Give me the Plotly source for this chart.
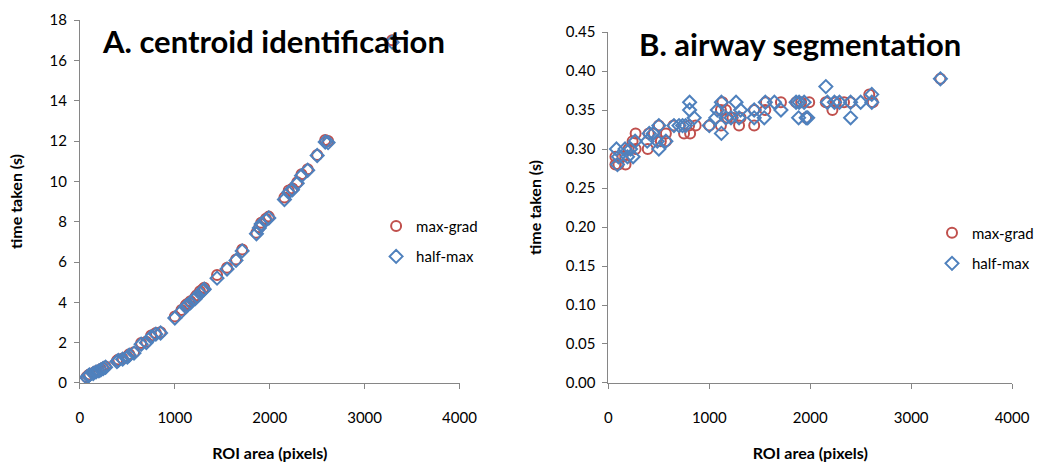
import plotly.graph_objects as go

# ROI areas (pixels) and timings for centroid identification
roi_area = [70, 90, 100, 140, 170, 200, 220, 245, 270, 390, 405, 450, 500, 520, 570,
            645, 700, 750, 800, 850, 1000, 1070, 1115, 1130, 1165, 1215, 1230, 1265,
            1295, 1310, 1445, 1550, 1645, 1710, 1860, 1890, 1910, 1960, 1990, 2155,
            2200, 2240, 2290, 2335, 2400, 2500, 2585, 2615, 3290]
centroid_maxgrad = [0.30, 0.38, 0.42, 0.50, 0.58, 0.62, 0.68, 0.74, 0.82, 1.10, 1.16,
                    1.22, 1.32, 1.42, 1.52, 1.98, 2.05, 2.35, 2.48, 2.52, 3.30, 3.62,
                    3.85, 3.92, 4.05, 4.25, 4.35, 4.55, 4.65, 4.72, 5.35, 5.72, 6.12,
                    6.62, 7.45, 7.72, 7.95, 8.15, 8.25, 9.20, 9.55, 9.65, 9.95, 10.35,
                    10.60, 11.30, 12.05, 12.00, 17.00]
centroid_halfmax = [0.28, 0.35, 0.40, 0.47, 0.55, 0.60, 0.65, 0.72, 0.78, 1.06, 1.12,
                    1.18, 1.28, 1.38, 1.48, 1.92, 2.00, 2.28, 2.42, 2.48, 3.22, 3.55,
                    3.78, 3.85, 3.98, 4.18, 4.28, 4.45, 4.58, 4.65, 5.20, 5.65, 6.08,
                    6.55, 7.40, 7.68, 7.88, 8.08, 8.18, 9.10, 9.45, 9.58, 9.90, 10.28,
                    10.55, 11.28, 11.95, 11.92, 16.90]

# Airway segmentation timings
seg_maxgrad_x = [70, 70, 100, 170, 140, 200, 240, 270, 270, 390, 400, 450, 500, 520,
                 570, 570, 645, 750, 810, 800, 865, 1000, 1115, 1115, 1130, 1165, 1180,
                 1230, 1295, 1310, 1445, 1445, 1555, 1560, 1710, 1860, 1910, 1960, 1990,
                 2155, 2220, 2255, 2335, 2400, 2585, 2620, 3290]
seg_maxgrad_y = [0.29, 0.28, 0.28, 0.28, 0.29, 0.30, 0.31, 0.32, 0.30, 0.30, 0.32,
                 0.32, 0.33, 0.31, 0.32, 0.31, 0.33, 0.32, 0.32, 0.33, 0.33, 0.33, 0.33,
                 0.35, 0.36, 0.35, 0.34, 0.34, 0.33, 0.34, 0.33, 0.35, 0.35, 0.36, 0.36,
                 0.36, 0.36, 0.34, 0.36, 0.36, 0.35, 0.36, 0.36, 0.36, 0.37, 0.36, 0.39]
seg_halfmax_x = [80, 90, 100, 165, 190, 220, 245, 265, 385, 405, 445, 485, 500, 500,
                 570, 650, 700, 735, 765, 805, 805, 850, 1000, 1065, 1080, 1120, 1120,
                 1165, 1215, 1265, 1295, 1310, 1445, 1445, 1545, 1555, 1645, 1710, 1860,
                 1885, 1890, 1940, 1960, 1975, 2155, 2170, 2240, 2290, 2400, 2400, 2500,
                 2610, 2610, 3290]
seg_halfmax_y = [0.30, 0.28, 0.29, 0.30, 0.29, 0.30, 0.29, 0.31, 0.31, 0.32, 0.32,
                 0.31, 0.33, 0.30, 0.31, 0.33, 0.33, 0.33, 0.33, 0.36, 0.35, 0.34, 0.33,
                 0.34, 0.35, 0.36, 0.32, 0.34, 0.34, 0.36, 0.34, 0.35, 0.35, 0.34, 0.34,
                 0.36, 0.36, 0.35, 0.36, 0.34, 0.36, 0.36, 0.34, 0.34, 0.38, 0.36, 0.36,
                 0.36, 0.34, 0.36, 0.36, 0.37, 0.36, 0.39]

RED = "#C0504D"
BLUE = "#4F81BD"
AXIS = "#868686"
FONT = "Lato"

fig = go.Figure()

def add_pair(x1, y1, x2, y2, xa, ya, legend):
    fig.add_trace(go.Scatter(
        x=x1, y=y1, mode="markers", name="max-grad", xaxis=xa, yaxis=ya,
        legend=legend, legendgroup=legend + "a",
        marker=dict(symbol="circle-open", size=10, color=RED, line=dict(width=2, color=RED))))
    fig.add_trace(go.Scatter(
        x=x2, y=y2, mode="markers", name="half-max", xaxis=xa, yaxis=ya,
        legend=legend, legendgroup=legend + "b",
        marker=dict(symbol="diamond-open", size=10, color=BLUE, line=dict(width=2, color=BLUE))))

add_pair(roi_area, centroid_maxgrad, roi_area, centroid_halfmax, "x", "y", "legend")
add_pair(seg_maxgrad_x, seg_maxgrad_y, seg_halfmax_x, seg_halfmax_y, "x2", "y2", "legend2")

tick_font = dict(family=FONT, size=15, color="#000")
title_font = dict(family=FONT, size=16, color="#000", weight="bold")

def xaxis(domain, anchor):
    return dict(domain=domain, anchor=anchor, range=[0, 4000], dtick=1000,
                automargin=False,
                showgrid=False, zeroline=False, showline=True, linecolor=AXIS,
                ticks="outside", ticklen=5, tickcolor=AXIS, tickfont=tick_font,
                ticklabelstandoff=16,
                title=dict(text="ROI area (pixels)", font=title_font, standoff=22))

def yaxis(domain, anchor, rng, dt, fmt, standoff):
    return dict(domain=domain, anchor=anchor, range=rng, dtick=dt, tickformat=fmt,
                automargin=False,
                showgrid=False, zeroline=False, showline=True, linecolor=AXIS,
                ticks="outside", ticklen=5, tickcolor=AXIS, tickfont=tick_font,
                ticklabelstandoff=4,
                title=dict(text="time taken (s)", font=title_font, standoff=standoff))

legend_style = dict(font=dict(family=FONT, size=15, color="#000"), bgcolor="rgba(0,0,0,0)",
                    tracegroupgap=8, xanchor="left", yanchor="middle", itemwidth=30)

fig.update_layout(
    template="none",
    width=1039, height=462, margin=dict(l=0, r=0, t=0, b=0),
    paper_bgcolor="white", plot_bgcolor="white",
    showlegend=True,
    xaxis=xaxis([0.077, 0.4427], "y"),
    yaxis=yaxis([0.171, 0.9567], "x", [0, 18], 2, "d", 22),
    xaxis2=xaxis([0.5861, 0.975], "y2"),
    yaxis2=yaxis([0.171, 0.9307], "x2", [0, 0.45], 0.05, ".2f", 20),
    legend=dict(x=0.362, y=0.478, **legend_style),
    legend2=dict(x=0.898, y=0.463, **legend_style),
    annotations=[
        dict(text="A. centroid identification", x=100 / 1039, y=1 - 41 / 462,
             xref="paper", yref="paper", xanchor="left", yanchor="middle",
             showarrow=False, font=dict(family=FONT, size=31, color="#000", weight="bold")),
        dict(text="B. airway segmentation", x=638 / 1039, y=1 - 44 / 462,
             xref="paper", yref="paper", xanchor="left", yanchor="middle",
             showarrow=False, font=dict(family=FONT, size=31, color="#000", weight="bold")),
    ],
)

fig.write_html("out.html")
